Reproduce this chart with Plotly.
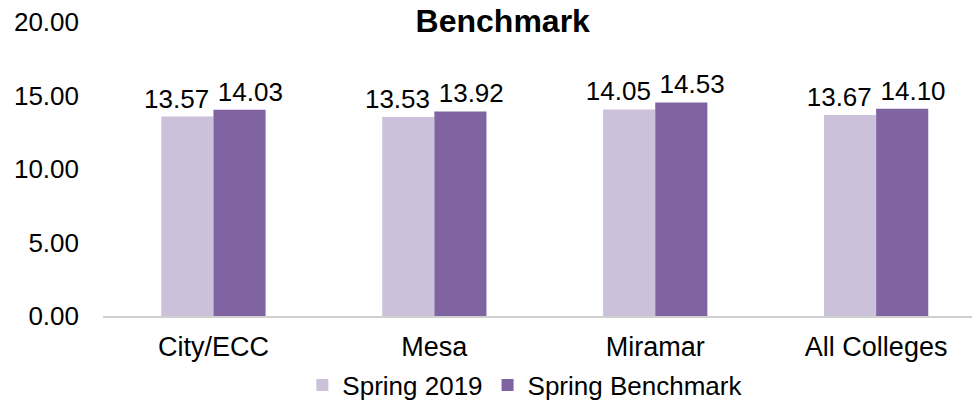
import plotly.graph_objects as go

categories = ["City/ECC", "Mesa", "Miramar", "All Colleges"]
spring_2019 = [13.57, 13.53, 14.05, 13.67]
spring_benchmark = [14.03, 13.92, 14.53, 14.10]
series_names = ["Spring 2019", "Spring Benchmark"]
y_ticks = [0, 5, 10, 15, 20]
title_text = "<b>Average Units Taken Spring 2019 Compared to<br>Benchmark</b>"

FONT = "Liberation Sans, Arial, sans-serif"
NB = "\u00a0" * 3

fig = go.Figure()
fig.add_trace(go.Bar(
    x=categories, y=spring_2019, name=series_names[0],
    marker=dict(color="#CCC1DA", line=dict(width=0)),
    text=[f"{v:.2f}{NB}" for v in spring_2019],
    textposition="outside", constraintext="none", cliponaxis=False,
    textfont=dict(family=FONT, size=26, color="#000000"),
))
fig.add_trace(go.Bar(
    x=categories, y=spring_benchmark, name=series_names[1],
    marker=dict(color="#8064A2", line=dict(width=0)),
    text=[f"{NB}{v:.2f}" for v in spring_benchmark],
    textposition="outside", constraintext="none", cliponaxis=False,
    textfont=dict(family=FONT, size=26, color="#000000"),
))

fig.add_annotation(
    text=title_text, xref="paper", yref="paper", x=0.46, y=1,
    xanchor="center", yanchor="bottom", yshift=-19, showarrow=False,
    font=dict(family=FONT, size=32, color="#000000"),
)

fig.update_layout(
    width=972, height=404,
    margin=dict(l=103, r=0, t=22, b=88, autoexpand=False),
    paper_bgcolor="white", plot_bgcolor="white",
    barmode="group", bargap=0.528, bargroupgap=0,
    font=dict(family=FONT, size=26, color="#000000"),
    showlegend=True,
    legend=dict(orientation="h", x=0.486, xanchor="center",
                yref="container", y=0.047, yanchor="middle",
                font=dict(family=FONT, size=26, color="#000000"),
                itemsizing="constant", traceorder="normal", itemwidth=30),
    xaxis=dict(range=[-0.5, 3.434], showgrid=False, showline=True, linecolor="#D0D0D0",
               linewidth=2, ticks="", tickfont=dict(family=FONT, size=27),
               ticklabelstandoff=6, automargin=False),
    yaxis=dict(range=[0, 20], tickvals=y_ticks, tickformat=".2f", showgrid=False,
               showline=False, zeroline=False, ticks="", ticklabelstandoff=23,
               tickfont=dict(family=FONT, size=26), automargin=False),
)

fig.write_html("out.html", config={"displayModeBar": False},
               post_script="document.body.style.margin='0';document.body.style.overflow='hidden';")
